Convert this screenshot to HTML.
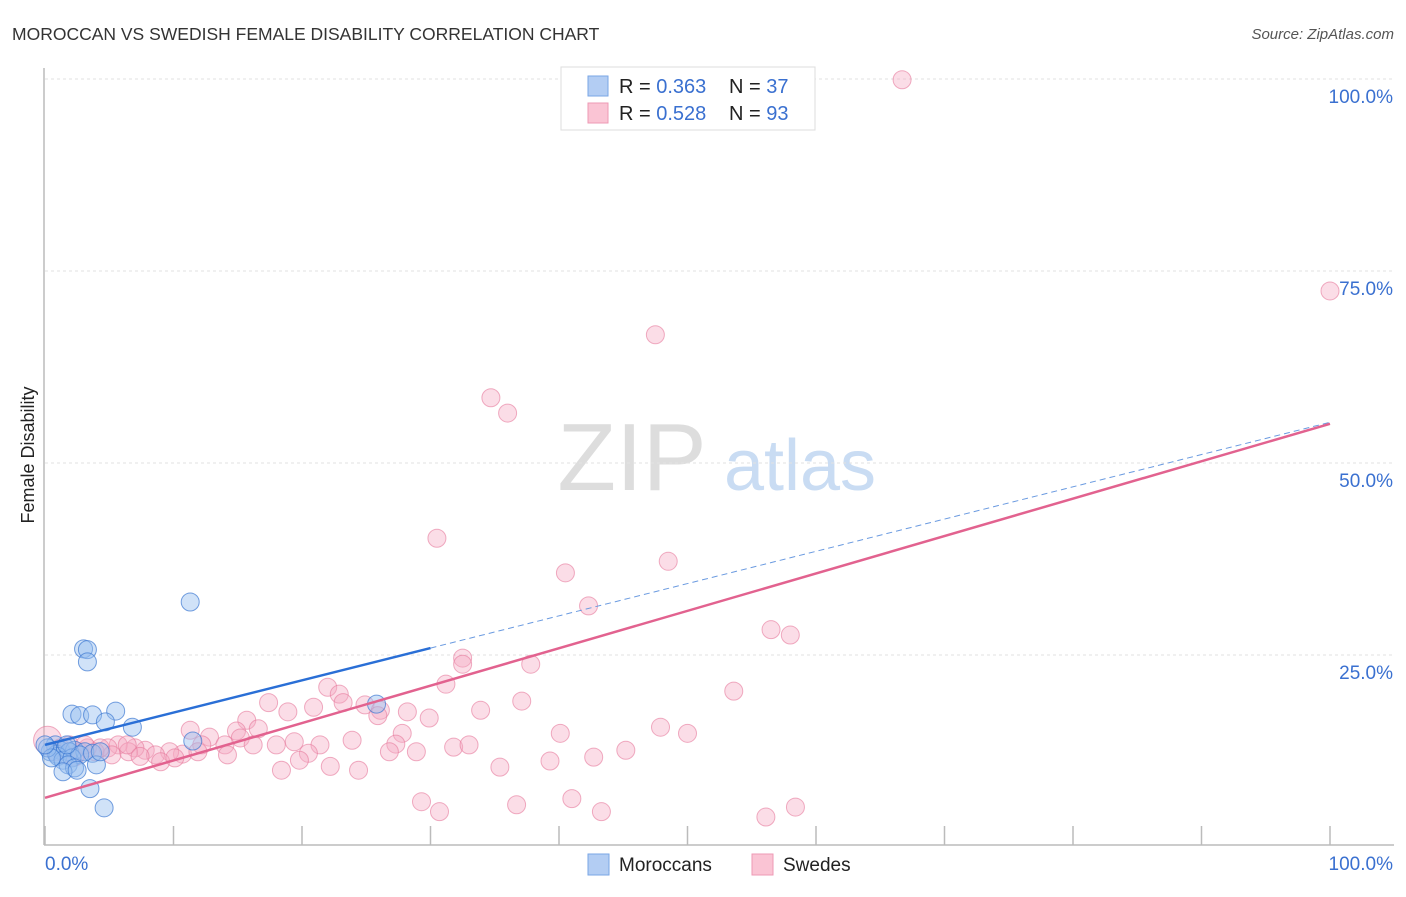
<!DOCTYPE html>
<html><head><meta charset="utf-8"><style>
body{margin:0;background:#fff;font-family:"Liberation Sans",sans-serif;}
svg text{font-family:"Liberation Sans",sans-serif;}
</style></head><body>
<svg id="chart" width="1406" height="892" xmlns="http://www.w3.org/2000/svg">
<text x="12" y="40" font-size="17.5" fill="#333">MOROCCAN VS SWEDISH FEMALE DISABILITY CORRELATION CHART</text>
<text x="1394" y="39" font-size="15" fill="#555" font-style="italic" text-anchor="end">Source: ZipAtlas.com</text>
<text x="34" y="455" font-size="18" fill="#222" transform="rotate(-90 34 455)" text-anchor="middle">Female Disability</text>
<text x="632" y="490" font-size="96" fill="#ddd" font-family="Liberation Serif" text-anchor="middle">ZIP</text>
<text x="800" y="490" font-size="72" fill="#c9dcf3" text-anchor="middle">atlas</text>
<g id="grid"></g><g id="axes"></g><g id="pts"></g><g id="lines"></g>
<g>
<rect x="561" y="67" width="254" height="63" fill="#fff" stroke="#ddd"/>
<rect x="588" y="76" width="20" height="20" fill="#b3cdf3" stroke="#7aa6e6"/>
<rect x="588" y="103" width="20" height="20" fill="#fac4d4" stroke="#ee9ab4"/>
<text x="619" y="93" font-size="20" fill="#222">R = <tspan fill="#3a70d0">0.363</tspan></text>
<text x="729" y="93" font-size="20" fill="#222">N = <tspan fill="#3a70d0">37</tspan></text>
<text x="619" y="120" font-size="20" fill="#222">R = <tspan fill="#3a70d0">0.528</tspan></text>
<text x="729" y="120" font-size="20" fill="#222">N = <tspan fill="#3a70d0">93</tspan></text>
</g>
<g>
<rect x="588" y="854" width="21" height="21" fill="#b3cdf3" stroke="#7aa6e6"/>
<text x="619" y="871" font-size="19" fill="#222">Moroccans</text>
<rect x="752" y="854" width="21" height="21" fill="#fac4d4" stroke="#ee9ab4"/>
<text x="783" y="871" font-size="19" fill="#222">Swedes</text>
</g>
</svg>
<script>
const blueX=[11.3,3.0,3.3,3.3,2.1,2.7,3.7,5.5,4.7,6.8,0.8,1.2,0.4,0.9,1.6,2.3,1.9,3.1,1.0,1.4,2.1,2.7,3.7,1.8,2.3,1.4,2.5,4.0,3.5,4.6,11.5,25.8,0.2,0.5,1.7,4.3,0.0];
const blueY=[31.9,25.8,25.7,24.1,17.3,17.1,17.2,17.7,16.3,15.6,13.3,12.6,12.4,12.1,12.9,12.6,12.4,12.4,11.8,11.3,11.6,12.0,12.2,10.7,10.3,9.8,10.0,10.7,7.6,5.1,13.8,18.6,12.9,11.6,13.3,12.4,13.3];
const pinkX=[66.7,100,47.5,34.7,36.0,30.5,48.5,40.5,42.3,56.5,58.0,32.5,32.5,37.8,31.2,22.0,22.9,23.2,17.4,37.1,53.6,24.9,26.1,28.2,18.9,20.9,33.9,29.9,25.9,15.7,47.9,14.9,16.6,11.3,50.0,40.1,27.8,23.9,15.2,12.8,14.0,19.4,21.4,27.3,31.8,33.0,45.2,12.2,16.2,18.0,20.5,26.8,28.9,10.7,9.7,7.8,7.0,5.7,4.9,6.5,3.9,5.2,8.6,9.0,10.1,11.9,14.2,19.8,42.7,39.3,22.2,24.4,18.4,35.4,29.3,30.7,36.7,41.0,43.3,56.1,58.4,0.2,1.2,1.9,2.7,3.3,1.6,0.8,2.3,4.3,3.1,6.4,7.4];
const pinkY=[99.9,72.4,66.7,58.5,56.5,40.2,37.2,35.7,31.4,28.3,27.6,24.6,23.8,23.8,21.2,20.8,19.9,18.8,18.8,19.0,20.3,18.5,17.8,17.6,17.6,18.2,17.8,16.8,17.1,16.5,15.6,15.1,15.4,15.2,14.8,14.8,14.8,13.9,14.2,14.3,13.3,13.7,13.3,13.4,13.0,13.3,12.6,13.3,13.3,13.3,12.2,12.4,12.4,12.1,12.4,12.6,12.9,13.3,12.9,12.4,12.4,12.0,12.0,11.1,11.6,12.4,12.0,11.3,11.7,11.2,10.5,10.0,10.0,10.4,5.9,4.6,5.5,6.3,4.6,3.9,5.2,13.9,12.9,13.3,12.4,12.9,12.0,12.4,11.7,12.9,13.3,13.3,11.8];
const yTicks=[100,75,50,25];
const yTickLabels=["100.0%","75.0%","50.0%","25.0%"];
const xTicks=[0,10,20,30,40,50,60,70,80,90,100];
const blueTrend=[13.3,55.3];
const pinkTrend=[6.4,55.1];
const blueSolidEnd=30;

const X0=45,X1=1330,Y0=847,Y100=79;
const sx=v=>X0+(X1-X0)*v/100;
const sy=v=>Y0-(Y0-Y100)*v/100;
const NS="http://www.w3.org/2000/svg";
function mk(tag,attrs,parent){const e=document.createElementNS(NS,tag);for(const k in attrs)e.setAttribute(k,attrs[k]);document.getElementById(parent).appendChild(e);return e;}

yTicks.forEach((t,i)=>{
  const g=mk('line',{x1:45,x2:1394,y1:sy(t),y2:sy(t),stroke:'#e2e2e2','stroke-dasharray':'3,3'},'grid');
  
  
  const l=mk('text',{x:1393,y:sy(t)+24,'font-size':19,fill:'#3a70d0','text-anchor':'end'},'grid');
  l.textContent=yTickLabels[i];
  
  
});
const ax=mk('line',{x1:44,x2:44,y1:68,y2:845,stroke:'#bbb','stroke-width':1.5},'axes');


const bx=mk('line',{x1:44,x2:1394,y1:845,y2:845,stroke:'#bbb','stroke-width':1.5},'axes');


xTicks.forEach(t=>{
  const tk=mk('line',{x1:sx(t),x2:sx(t),y1:826,y2:845,stroke:'#bbb','stroke-width':1.5},'axes');
  
  
});
const xl0=mk('text',{x:45,y:870,'font-size':19,fill:'#3a70d0'},'axes');xl0.textContent='0.0%';


const xl1=mk('text',{x:1393,y:870,'font-size':19,fill:'#3a70d0','text-anchor':'end'},'axes');xl1.textContent='100.0%';



pinkX.forEach((x,i)=>{
  const c=mk('circle',{cx:sx(x),cy:sy(pinkY[i]),r:i===81?14:9,fill:'rgba(245,170,195,0.4)',stroke:'rgba(230,120,155,0.6)','stroke-width':1},'pts');
  
  
});
blueX.forEach((x,i)=>{
  const c=mk('circle',{cx:sx(x),cy:sy(blueY[i]),r:9,fill:'rgba(150,190,240,0.45)',stroke:'rgba(60,120,210,0.7)','stroke-width':1},'pts');
  
  
});
const bAt=x=>blueTrend[0]+(blueTrend[1]-blueTrend[0])*x/100;
const pAt=x=>pinkTrend[0]+(pinkTrend[1]-pinkTrend[0])*x/100;
const bl=mk('line',{x1:sx(0),y1:sy(bAt(0)),x2:sx(blueSolidEnd),y2:sy(bAt(blueSolidEnd)),stroke:'#2a6fd6','stroke-width':2.5},'lines');


const bd=mk('line',{x1:sx(blueSolidEnd),y1:sy(bAt(blueSolidEnd)),x2:sx(100),y2:sy(bAt(100)),stroke:'#6a9ae0','stroke-width':1,'stroke-dasharray':'6,4'},'lines');


const pl=mk('line',{x1:sx(0),y1:sy(pAt(0)),x2:sx(100),y2:sy(pAt(100)),stroke:'#e2628f','stroke-width':2.5},'lines');


</script>
</body></html>
